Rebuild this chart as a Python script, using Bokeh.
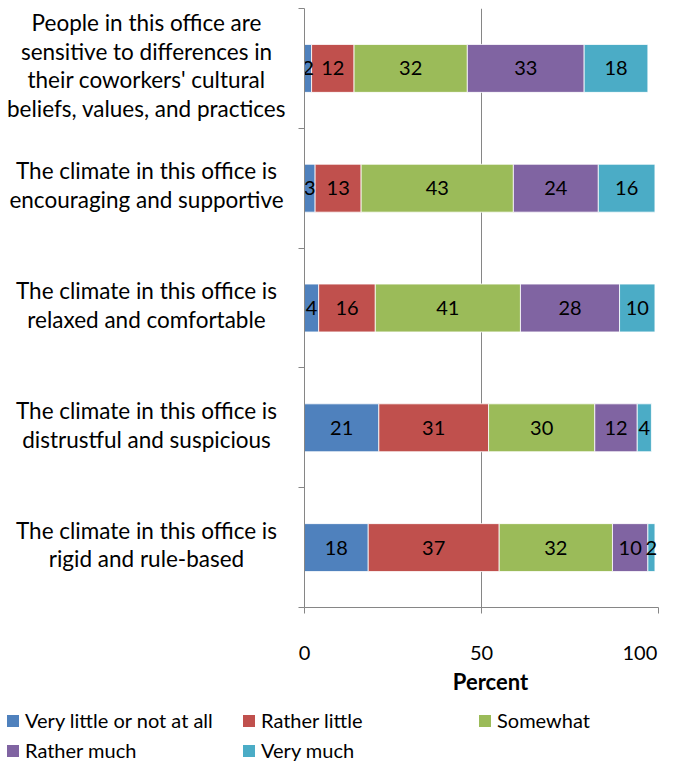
from bokeh.plotting import figure
from bokeh.models import Range1d, FixedTicker, ColumnDataSource, Legend, LegendItem
from bokeh.layouts import column, row
from bokeh.embed import file_html
from bokeh.resources import INLINE
from bokeh.core.properties import value

# Survey statements (top to bottom) and response levels
statements = [
    "People in this office are\nsensitive to differences in\ntheir coworkers' cultural\nbeliefs, values, and practices",
    "The climate in this office is\nencouraging and supportive",
    "The climate in this office is\nrelaxed and comfortable",
    "The climate in this office is\ndistrustful and suspicious",
    "The climate in this office is\nrigid and rule-based",
]
levels = ["Very little or not at all", "Rather little", "Somewhat", "Rather much", "Very much"]

# Percent of respondents per level, one value per statement
very_little = [2, 3, 4, 21, 18]
rather_little = [12, 13, 16, 31, 37]
somewhat = [32, 43, 41, 30, 32]
rather_much = [33, 24, 28, 12, 10]
very_much = [18, 16, 10, 4, 2]

x_ticks = [0, 50, 100]
x_title = "Percent"

colors = ["#4F81BD", "#C0504D", "#9BBB59", "#8064A2", "#4BACC6"]
FONT = "Lato"
AXIS_GRAY = "#868686"

series = [very_little, rather_little, somewhat, rather_much, very_much]
keys = ["s%d" % i for i in range(len(levels))]
n = len(statements)
ypos = [n - i - 0.5 for i in range(n)]

data = {"y": ypos, "label": statements}
for k, vals in zip(keys, series):
    data[k] = vals
# centre of each segment for the value labels
running = [0] * n
for k, vals in zip(keys, series):
    data[k + "_mid"] = [r + v / 2 for r, v in zip(running, vals)]
    data[k + "_txt"] = [str(v) for v in vals]
    running = [r + v for r, v in zip(running, vals)]
src = ColumnDataSource(data)

W = 680
y_range = Range1d(0, n)
TOP, BOTTOM, H = 8, 59, 666
LABEL_W = 296
AXIS_BORDER = 8
FOOT_H = 98

# left panel holding the statement texts
lab = figure(width=LABEL_W, height=H, x_range=Range1d(0, LABEL_W), y_range=y_range,
             output_backend="svg", toolbar_location=None,
             min_border_left=0, min_border_right=0, min_border_top=TOP, min_border_bottom=BOTTOM)
lab.axis.visible = False
lab.grid.visible = False
lab.outline_line_color = None
lab.text(x=146, y="y", text="label", source=src, text_align="center", text_baseline="middle",
         y_offset=-3, text_font=value(FONT), text_font_size="22.5px", text_color="#000000",
         text_line_height=1.06)

# main stacked bar chart
p = figure(width=W - LABEL_W, height=H, x_range=Range1d(0, 100), y_range=y_range,
           output_backend="svg", toolbar_location=None,
           min_border_left=AXIS_BORDER, min_border_right=22, min_border_top=TOP,
           min_border_bottom=BOTTOM)
p.outline_line_color = None
p.hbar_stack(keys, y="y", height=0.4, color=colors, source=src,
             line_color="white", line_width=1, line_alpha=0.8)
for k in keys:
    p.text(x=k + "_mid", y="y", text=k + "_txt", source=src, text_align="center",
           text_baseline="middle", text_font=value(FONT), text_font_size="20px", text_color="#000000")

p.xaxis.ticker = FixedTicker(ticks=x_ticks)
# keep the last tick label inside the plot edge (padded with figure spaces)
p.xaxis.major_label_overrides = {x_ticks[-1]: str(x_ticks[-1]) + "\u2007\u2007"}
p.xaxis.major_label_text_font = FONT
p.xaxis.major_label_text_font_size = "20px"
p.xaxis.major_label_text_color = "#000000"
p.xaxis.major_label_standoff = 26
p.xaxis.major_tick_out = 6
p.xaxis.major_tick_in = 0
p.xaxis.minor_tick_line_color = None
p.xaxis.axis_line_color = AXIS_GRAY
p.xaxis.major_tick_line_color = AXIS_GRAY

p.yaxis.ticker = FixedTicker(ticks=list(range(n + 1)))
p.yaxis.major_label_overrides = {i: "" for i in range(n + 1)}
p.yaxis.major_label_text_font_size = "1px"
p.yaxis.major_label_standoff = 0
p.yaxis.major_tick_out = 6
p.yaxis.major_tick_in = 0
p.yaxis.minor_tick_line_color = None
p.yaxis.axis_line_color = AXIS_GRAY
p.yaxis.major_tick_line_color = AXIS_GRAY

p.xgrid.ticker = FixedTicker(ticks=x_ticks)
p.xgrid.grid_line_color = AXIS_GRAY
p.ygrid.visible = False

# footer strip: x axis title and the legend; zero-size bars act as swatch sources
leg = figure(width=W, height=FOOT_H, x_range=Range1d(0, W), y_range=Range1d(0, FOOT_H),
             output_backend="svg", toolbar_location=None,
             min_border_left=0, min_border_right=0, min_border_top=0, min_border_bottom=0)
leg.axis.visible = False
leg.grid.visible = False
leg.outline_line_color = None
leg.text(x=[490], y=[FOOT_H - 15], text=[x_title], text_align="center", text_baseline="middle",
         text_font=value(FONT), text_font_style="bold", text_font_size="22px", text_color="#000000")
swatch = {}
for name, c in zip(levels, colors):
    swatch[name] = leg.hbar(y=[0], left=[0], right=[0], height=0, fill_color=c, line_color=None)
# grid fills column by column: order items so rows read left to right
ncols = 3
nrows = -(-len(levels) // ncols)
order = [r * ncols + c for c in range(ncols) for r in range(nrows) if r * ncols + c < len(levels)]
items = [LegendItem(label=levels[i], renderers=[swatch[levels[i]]]) for i in order]
legend = Legend(items=items, location=(5, -1), ncols=ncols, margin=0, padding=0, spacing=0,
                glyph_width=15, glyph_height=15, label_standoff=5, label_width=216, label_height=30,
                label_text_font=FONT, label_text_font_size="20px", label_text_color="#000000",
                border_line_color=None, background_fill_alpha=0)
leg.add_layout(legend)

layout = column(row(lab, p), leg)
open("out.html", "w").write(file_html(layout, INLINE))
